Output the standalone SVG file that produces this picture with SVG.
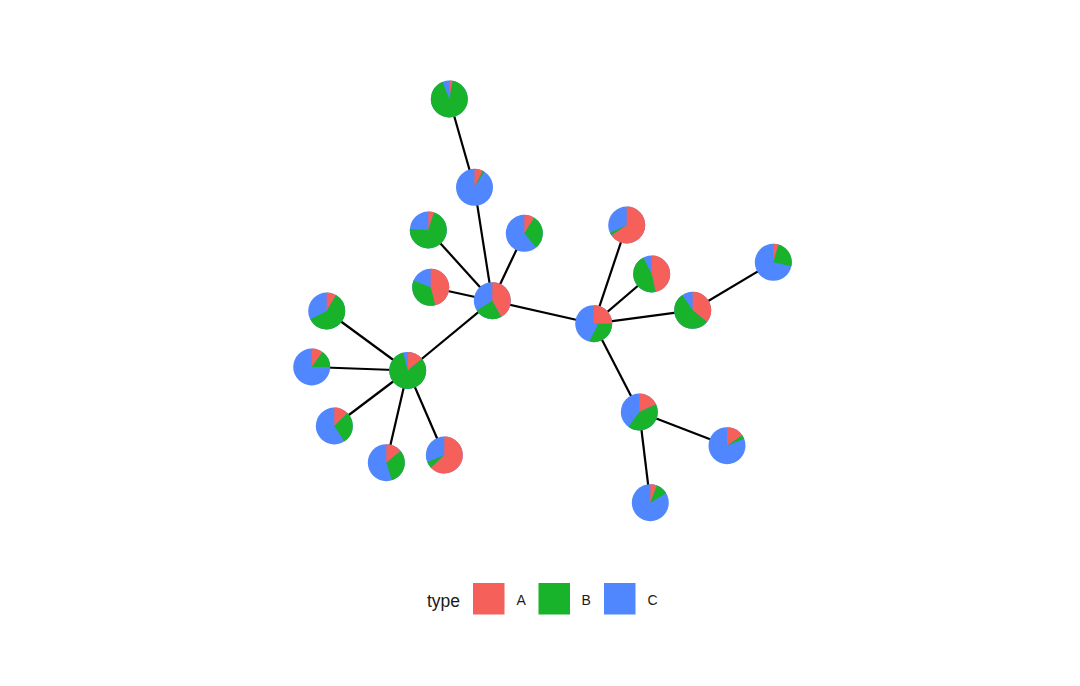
<svg xmlns="http://www.w3.org/2000/svg" width="1080" height="686" viewBox="0 0 1080 686">
<style>
.bg{fill:#5087FF}
.s{fill:none;stroke-width:18.5}
.a{stroke:#F5605A}
.b{stroke:#19B22B}
#edges line{stroke:#000;stroke-width:2.2}
.lt{font-family:"Liberation Sans",Arial,sans-serif;fill:#1a1a1a}
</style>
<rect width="1080" height="686" fill="#fff"/>
<g id="edges">
<line x1="449.3" y1="99" x2="474.5" y2="187.3"/>
<line x1="474.5" y1="187.3" x2="492.3" y2="300.7"/>
<line x1="428.3" y1="230" x2="492.3" y2="300.7"/>
<line x1="524.3" y1="233.3" x2="492.3" y2="300.7"/>
<line x1="430.7" y1="287.3" x2="492.3" y2="300.7"/>
<line x1="492.3" y1="300.7" x2="407.7" y2="370.5"/>
<line x1="492.3" y1="300.7" x2="593.7" y2="323.7"/>
<line x1="326.7" y1="311" x2="407.7" y2="370.5"/>
<line x1="311.7" y1="367" x2="407.7" y2="370.5"/>
<line x1="334.3" y1="426" x2="407.7" y2="370.5"/>
<line x1="386.3" y1="462.7" x2="407.7" y2="370.5"/>
<line x1="444.3" y1="455" x2="407.7" y2="370.5"/>
<line x1="593.7" y1="323.7" x2="626.7" y2="225"/>
<line x1="593.7" y1="323.7" x2="651.7" y2="274"/>
<line x1="593.7" y1="323.7" x2="692.7" y2="310.3"/>
<line x1="692.7" y1="310.3" x2="773.3" y2="262.3"/>
<line x1="593.7" y1="323.7" x2="639.3" y2="412"/>
<line x1="639.3" y1="412" x2="727" y2="445.7"/>
<line x1="639.3" y1="412" x2="650.3" y2="502.7"/>
</g>
<g id="n1" transform="translate(449.3,99) rotate(-90)"><circle class="bg" r="18.5"/><circle class="s a" r="9.25" pathLength="100" stroke-dasharray="3 100"/><circle class="s b" r="9.25" pathLength="100" stroke-dasharray="91 100" stroke-dashoffset="-3"/></g>
<g id="n2" transform="translate(474.5,187.3) rotate(-90)"><circle class="bg" r="18.5"/><circle class="s a" r="9.25" pathLength="100" stroke-dasharray="7.5 100"/><circle class="s b" r="9.25" pathLength="100" stroke-dasharray="1.5 100" stroke-dashoffset="-7.5"/></g>
<g id="n3" transform="translate(428.3,230) rotate(-90)"><circle class="bg" r="18.5"/><circle class="s a" r="9.25" pathLength="100" stroke-dasharray="5 100"/><circle class="s b" r="9.25" pathLength="100" stroke-dasharray="71 100" stroke-dashoffset="-5"/></g>
<g id="n4" transform="translate(524.3,233.3) rotate(-90)"><circle class="bg" r="18.5"/><circle class="s a" r="9.25" pathLength="100" stroke-dasharray="9 100"/><circle class="s b" r="9.25" pathLength="100" stroke-dasharray="30 100" stroke-dashoffset="-9"/></g>
<g id="n5" transform="translate(430.7,287.3) rotate(-90)"><circle class="bg" r="18.5"/><circle class="s a" r="9.25" pathLength="100" stroke-dasharray="46 100"/><circle class="s b" r="9.25" pathLength="100" stroke-dasharray="35 100" stroke-dashoffset="-46"/></g>
<g id="n6" transform="translate(492.3,300.7) rotate(-90)"><circle class="bg" r="18.5"/><circle class="s a" r="9.25" pathLength="100" stroke-dasharray="42 100"/><circle class="s b" r="9.25" pathLength="100" stroke-dasharray="24 100" stroke-dashoffset="-42"/></g>
<g id="n7" transform="translate(326.7,311) rotate(-90)"><circle class="bg" r="18.5"/><circle class="s a" r="9.25" pathLength="100" stroke-dasharray="8.5 100"/><circle class="s b" r="9.25" pathLength="100" stroke-dasharray="59 100" stroke-dashoffset="-8.5"/></g>
<g id="n8" transform="translate(407.7,370.5) rotate(-90)"><circle class="bg" r="18.5"/><circle class="s a" r="9.25" pathLength="100" stroke-dasharray="14 100"/><circle class="s b" r="9.25" pathLength="100" stroke-dasharray="82 100" stroke-dashoffset="-14"/></g>
<g id="n9" transform="translate(311.7,367) rotate(-90)"><circle class="bg" r="18.5"/><circle class="s a" r="9.25" pathLength="100" stroke-dasharray="10 100"/><circle class="s b" r="9.25" pathLength="100" stroke-dasharray="15 100" stroke-dashoffset="-10"/></g>
<g id="n10" transform="translate(334.3,426) rotate(-90)"><circle class="bg" r="18.5"/><circle class="s a" r="9.25" pathLength="100" stroke-dasharray="12.7 100"/><circle class="s b" r="9.25" pathLength="100" stroke-dasharray="28 100" stroke-dashoffset="-12.7"/></g>
<g id="n11" transform="translate(386.3,462.7) rotate(-90)"><circle class="bg" r="18.5"/><circle class="s a" r="9.25" pathLength="100" stroke-dasharray="14 100"/><circle class="s b" r="9.25" pathLength="100" stroke-dasharray="31 100" stroke-dashoffset="-14"/></g>
<g id="n12" transform="translate(444.3,455) rotate(-90)"><circle class="bg" r="18.5"/><circle class="s a" r="9.25" pathLength="100" stroke-dasharray="63 100"/><circle class="s b" r="9.25" pathLength="100" stroke-dasharray="5.5 100" stroke-dashoffset="-63"/></g>
<g id="n13" transform="translate(593.7,323.7) rotate(-90)"><circle class="bg" r="18.5"/><circle class="s a" r="9.25" pathLength="100" stroke-dasharray="25 100"/><circle class="s b" r="9.25" pathLength="100" stroke-dasharray="25 100" stroke-dashoffset="-25"/></g>
<g id="n14" transform="translate(626.7,225) rotate(-90)"><circle class="bg" r="18.5"/><circle class="s a" r="9.25" pathLength="100" stroke-dasharray="65.5 100"/><circle class="s b" r="9.25" pathLength="100" stroke-dasharray="2.5 100" stroke-dashoffset="-65.5"/></g>
<g id="n15" transform="translate(651.7,274) rotate(-90)"><circle class="bg" r="18.5"/><circle class="s a" r="9.25" pathLength="100" stroke-dasharray="46.5 100"/><circle class="s b" r="9.25" pathLength="100" stroke-dasharray="46 100" stroke-dashoffset="-46.5"/></g>
<g id="n16" transform="translate(692.7,310.3) rotate(-90)"><circle class="bg" r="18.5"/><circle class="s a" r="9.25" pathLength="100" stroke-dasharray="36 100"/><circle class="s b" r="9.25" pathLength="100" stroke-dasharray="54.5 100" stroke-dashoffset="-36"/></g>
<g id="n17" transform="translate(773.3,262.3) rotate(-90)"><circle class="bg" r="18.5"/><circle class="s a" r="9.25" pathLength="100" stroke-dasharray="4.6 100"/><circle class="s b" r="9.25" pathLength="100" stroke-dasharray="24 100" stroke-dashoffset="-4.6"/></g>
<g id="n18" transform="translate(639.3,412) rotate(-90)"><circle class="bg" r="18.5"/><circle class="s a" r="9.25" pathLength="100" stroke-dasharray="18 100"/><circle class="s b" r="9.25" pathLength="100" stroke-dasharray="42 100" stroke-dashoffset="-18"/></g>
<g id="n19" transform="translate(727,445.7) rotate(-90)"><circle class="bg" r="18.5"/><circle class="s a" r="9.25" pathLength="100" stroke-dasharray="15.4 100"/><circle class="s b" r="9.25" pathLength="100" stroke-dasharray="3.4 100" stroke-dashoffset="-15.4"/></g>
<g id="n20" transform="translate(650.3,502.7) rotate(-90)"><circle class="bg" r="18.5"/><circle class="s a" r="9.25" pathLength="100" stroke-dasharray="5.8 100"/><circle class="s b" r="9.25" pathLength="100" stroke-dasharray="10.7 100" stroke-dashoffset="-5.8"/></g>
<g id="legend">
<text class="lt" x="427" y="607" font-size="17.5">type</text>
<rect x="473" y="583" width="31.5" height="31.5" fill="#F5605A"/>
<text class="lt" x="516.5" y="605" font-size="14">A</text>
<rect x="538.5" y="583" width="31.5" height="31.5" fill="#19B22B"/>
<text class="lt" x="581.5" y="605" font-size="14">B</text>
<rect x="604" y="583" width="31.5" height="31.5" fill="#5087FF"/>
<text class="lt" x="647.5" y="605" font-size="14">C</text>
</g>
</svg>
